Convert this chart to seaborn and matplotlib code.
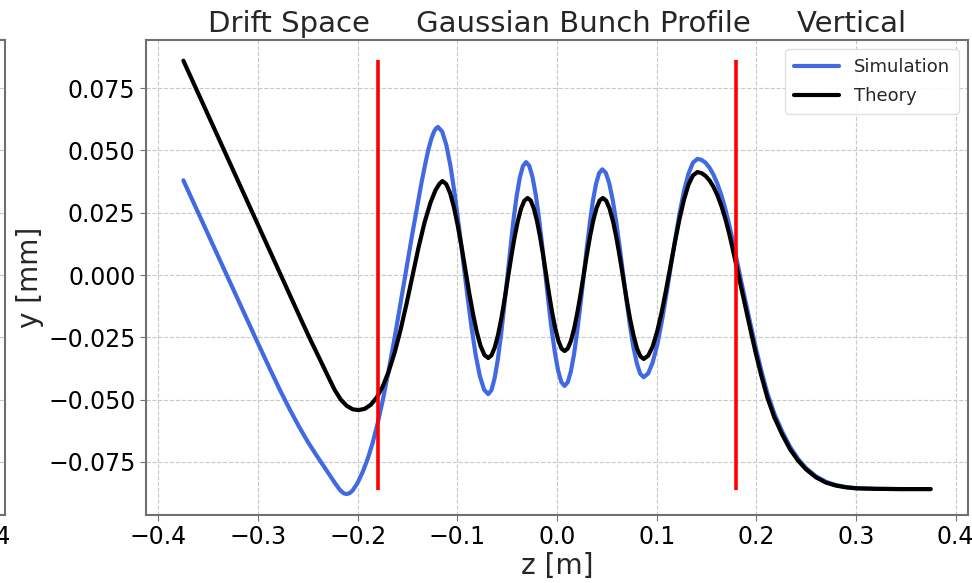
import numpy as np
import pandas as pd
import matplotlib
matplotlib.use("Agg")
import matplotlib.pyplot as plt
import seaborn as sns

# Theory curve: vertical centroid offset of the bunch along the drift
theory_z = [-0.375, -0.355, -0.335, -0.315, -0.295, -0.280, -0.268, -0.257, -0.247, -0.238,
            -0.230, -0.223, -0.217, -0.211, -0.205, -0.199, -0.193, -0.187, -0.181, -0.175,
            -0.169, -0.163, -0.157, -0.151, -0.145, -0.139, -0.133, -0.127, -0.122, -0.118,
            -0.115, -0.1112, -0.1073, -0.1035, -0.0997, -0.0958, -0.092, -0.0882, -0.0843, -0.0805,
            -0.0767, -0.0728, -0.069, -0.0657, -0.0624, -0.0591, -0.0558, -0.0525, -0.0493, -0.0460,
            -0.0427, -0.0394, -0.0361, -0.0328, -0.0295, -0.0264, -0.0233, -0.0202, -0.0171, -0.0140,
            -0.0110, -0.0079, -0.0048, -0.0017, 0.0014, 0.0045, 0.0076, 0.0108, 0.0140, 0.0172,
            0.0204, 0.0236, 0.0268, 0.0300, 0.0332, 0.0364, 0.0396, 0.0428, 0.046, 0.0494,
            0.0528, 0.0563, 0.0597, 0.0631, 0.0665, 0.0699, 0.0733, 0.0768, 0.0802, 0.0836,
            0.087, 0.0915, 0.096, 0.1005, 0.105, 0.1095, 0.114, 0.1185, 0.123, 0.1275,
            0.132, 0.1365, 0.141, 0.145, 0.149, 0.153, 0.157, 0.161, 0.165, 0.169,
            0.173, 0.177, 0.181, 0.185, 0.190, 0.195, 0.200, 0.205, 0.211, 0.218,
            0.226, 0.234, 0.242, 0.250, 0.260, 0.270, 0.280, 0.290, 0.300, 0.320,
            0.345, 0.375]
theory_y = [0.0860, 0.0684, 0.0508, 0.0332, 0.0156, 0.0024, -0.0082, -0.0178, -0.0264, -0.0338,
            -0.0405, -0.0462, -0.0500, -0.0525, -0.0539, -0.0542, -0.0537, -0.0521, -0.0492, -0.0448,
            -0.0388, -0.0312, -0.0220, -0.0115, -0.0002, 0.0110, 0.0210, 0.0290, 0.0340, 0.0366,
            0.0377, 0.0365, 0.0329, 0.0273, 0.0200, 0.0114, 0.0022, -0.0070, -0.0156, -0.0229,
            -0.0285, -0.0321, -0.0333, -0.0322, -0.0290, -0.0239, -0.0173, -0.0095, -0.0012, 0.0071,
            0.0149, 0.0215, 0.0266, 0.0298, 0.0309, 0.0299, 0.0268, 0.0219, 0.0156, 0.0082,
            0.0002, -0.0078, -0.0152, -0.0215, -0.0264, -0.0295, -0.0305, -0.0295, -0.0264, -0.0215,
            -0.0152, -0.0078, 0.0002, 0.0082, 0.0156, 0.0219, 0.0268, 0.0299, 0.0309, 0.0298,
            0.0266, 0.0214, 0.0148, 0.0070, -0.0014, -0.0098, -0.0176, -0.0242, -0.0294, -0.0326,
            -0.0337, -0.0324, -0.0287, -0.0227, -0.0150, -0.0059, 0.0038, 0.0135, 0.0226, 0.0303,
            0.0363, 0.0400, 0.0413, 0.0409, 0.0398, 0.0380, 0.0354, 0.0320, 0.0277, 0.0225,
            0.0163, 0.0093, 0.0020, -0.0055, -0.0145, -0.0235, -0.0322, -0.0403, -0.0490, -0.0570,
            -0.0640, -0.0700, -0.0745, -0.0780, -0.0812, -0.0833, -0.0845, -0.0852, -0.0856, -0.0858,
            -0.0859, -0.0859]

# Simulation curve
sim_z = [-0.375, -0.355, -0.335, -0.315, -0.300, -0.288, -0.278, -0.268, -0.259, -0.250,
         -0.242, -0.235, -0.229, -0.224, -0.220, -0.217, -0.214, -0.211, -0.208, -0.205,
         -0.200, -0.195,
         -0.190, -0.185, -0.180, -0.175, -0.170, -0.165, -0.160, -0.155, -0.150, -0.145,
         -0.140, -0.136, -0.132, -0.129, -0.126, -0.1235, -0.1215, -0.1195, -0.1153, -0.1111,
         -0.1069, -0.1027, -0.0985, -0.0943, -0.0900, -0.0858, -0.0816, -0.0774, -0.0732, -0.069,
         -0.0658, -0.0627, -0.0595, -0.0563, -0.0532, -0.050, -0.0468, -0.0437, -0.0405, -0.0373,
         -0.0342, -0.031, -0.0278, -0.0246, -0.0213, -0.0181, -0.0149, -0.0117, -0.0085, -0.0053,
         -0.0020, 0.0012, 0.0044, 0.0076, 0.0108, 0.0139, 0.0171, 0.0202, 0.0234, 0.0266,
         0.0297, 0.0329, 0.0360, 0.0392, 0.0423, 0.0455, 0.0490, 0.0524, 0.0559, 0.0593,
         0.0628, 0.0663, 0.0697, 0.0732, 0.0766, 0.0801, 0.0835, 0.087, 0.0915, 0.096,
         0.1005, 0.105, 0.1095, 0.114, 0.1185, 0.123, 0.1275, 0.132, 0.1365, 0.141,
         0.145, 0.149, 0.153, 0.157, 0.161, 0.165, 0.169, 0.173, 0.177, 0.181,
         0.185, 0.190, 0.195, 0.200, 0.205, 0.211, 0.218, 0.226, 0.234, 0.242,
         0.250, 0.260, 0.270, 0.280, 0.290, 0.300, 0.320, 0.345, 0.375]
sim_y = [0.0380, 0.0205, 0.0030, -0.0144, -0.0275, -0.0378, -0.0462, -0.0541, -0.0608, -0.0670,
         -0.0720, -0.0762, -0.0798, -0.0828, -0.0851, -0.0866, -0.0876, -0.0879, -0.0875, -0.0864,
         -0.0833, -0.0790,
         -0.0738, -0.0673, -0.0595, -0.0505, -0.0405, -0.0297, -0.0183, -0.0065, 0.0053, 0.0170,
         0.0280, 0.0370, 0.0450, 0.0505, 0.0548, 0.0575, 0.0588, 0.0594, 0.0576, 0.0522,
         0.0437, 0.0326, 0.0197, 0.0058, -0.0081, -0.0210, -0.0321, -0.0406, -0.0460, -0.0478,
         -0.0462, -0.0416, -0.0342, -0.0245, -0.0133, -0.0013, 0.0108, 0.0220, 0.0317, 0.0391,
         0.0437, 0.0453, 0.0438, 0.0393, 0.0322, 0.0229, 0.0120, 0.0004, -0.0112, -0.0221,
         -0.0314, -0.0385, -0.0430, -0.0445, -0.0430, -0.0387, -0.0318, -0.0228, -0.0123, -0.0011,
         0.0102, 0.0207, 0.0297, 0.0366, 0.0409, 0.0424, 0.0410, 0.0368, 0.0302, 0.0216,
         0.0115, 0.0007, -0.0101, -0.0202, -0.0288, -0.0354, -0.0396, -0.0410, -0.0395, -0.0351,
         -0.0282, -0.0191, -0.0085, 0.0028, 0.0141, 0.0247, 0.0338, 0.0407, 0.0451, 0.0466,
         0.0462, 0.0451, 0.0431, 0.0403, 0.0366, 0.0320, 0.0264, 0.0199, 0.0127, 0.0050,
         -0.0028, -0.0120, -0.0212, -0.0300, -0.0383, -0.0472, -0.0555, -0.0628, -0.0690, -0.0738,
         -0.0775, -0.0808, -0.0830, -0.0843, -0.0851, -0.0855, -0.0858, -0.0859, -0.0859]

# Edges of the bunch region
edge_z = [-0.18, 0.18]
edge_ymin = -0.0862
edge_ymax = 0.0862

x_ticks = [-0.4, -0.3, -0.2, -0.1, 0.0, 0.1, 0.2, 0.3, 0.4]
y_ticks = [-0.075, -0.050, -0.025, 0.000, 0.025, 0.050, 0.075]

SPINE = "#707070"
GRID = "#c8c8c8"

sns.set_style("whitegrid", {
    "grid.linestyle": "--",
    "grid.color": GRID,
    "axes.edgecolor": SPINE,
    "xtick.bottom": True,
    "ytick.left": True,
})
plt.rcParams["font.family"] = ["DejaVu Sans"]

fig = plt.figure(figsize=(9.72, 5.83), dpi=100)

W, H = 972.0, 583.0
ax_left, ax_right, ax_top, ax_bottom = 146.0, 968.0, 40.0, 515.0
pos = [ax_left / W, 1 - ax_bottom / H, (ax_right - ax_left) / W, (ax_bottom - ax_top) / H]


def style_axes(a):
    a.set_xlim(-0.4125, 0.4125)
    a.set_ylim(-0.0963, 0.0943)
    a.set_xticks(x_ticks)
    a.set_yticks(y_ticks)
    a.tick_params(axis="both", labelsize=17, colors=SPINE, labelcolor="black", length=4)
    a.grid(True, linestyle="--", color=GRID, linewidth=0.8)
    for s in a.spines.values():
        s.set_linewidth(1.5)
        s.set_color(SPINE)


# Neighbouring panel (horizontal plane); only its right edge falls on the canvas
ax0 = fig.add_axes([(5.0 - (ax_right - ax_left)) / W, pos[1], pos[2], pos[3]])
style_axes(ax0)
ax0.set_xticklabels([f"{t:.1f}".replace("-", "\u2212") for t in x_ticks])
ax0.set_yticklabels([])

ax = fig.add_axes(pos)
style_axes(ax)

df_theory = pd.DataFrame({"z": theory_z, "y": theory_y})
df_sim = pd.DataFrame({"z": sim_z, "y": sim_y})

sns.lineplot(data=df_sim, x="z", y="y", ax=ax, color="royalblue", linewidth=3.0,
             sort=False, estimator=None, label="Simulation")
sns.lineplot(data=df_theory, x="z", y="y", ax=ax, color="black", linewidth=3.0,
             sort=False, estimator=None, label="Theory")
ax.vlines(edge_z, edge_ymin, edge_ymax, colors="red", linewidth=2.6, zorder=3)

ax.set_xlim(-0.4125, 0.4125)
ax.set_ylim(-0.0963, 0.0943)
ax.set_xticklabels([f"{t:.1f}".replace("-", "\u2212") for t in x_ticks])
ax.set_yticklabels([f"{t:.3f}".replace("-", "\u2212") for t in y_ticks])

ax.set_xlabel("z [m]", fontsize=20, labelpad=2)
ax.set_ylabel("y [mm]", fontsize=20, labelpad=3)
ax.set_title("Drift Space     Gaussian Bunch Profile     Vertical", fontsize=21, pad=6)

ax.legend(loc="upper right", fontsize=13, frameon=True, framealpha=0.9,
          edgecolor="#dddddd", borderpad=0.5, handlelength=2.5, labelspacing=0.6)

fig.savefig("out.png", dpi=100)
